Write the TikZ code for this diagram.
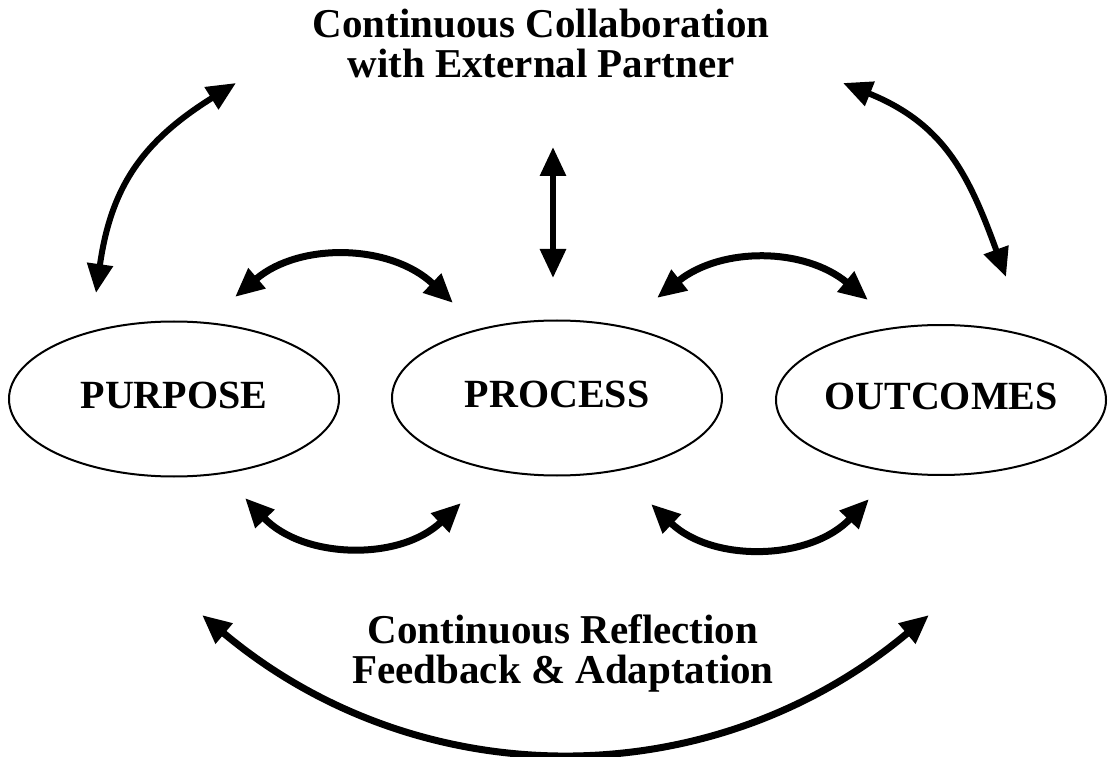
\documentclass[tikz,border=0pt]{standalone}
\usepackage{fontspec}
\setmainfont{Liberation Serif}
\usepackage{tikz}
\usetikzlibrary{shapes.geometric,arrows.meta}
\tikzset{%
  phase/.style={draw, ellipse, line width=2pt, minimum width=330pt,
    minimum height=155pt, inner sep=0pt, text depth=8pt,
    font=\bfseries\fontsize{40}{40}\selectfont},% the three stages
  caption/.style={align=center, inner sep=0pt,
    font=\bfseries\fontsize{41}{40}\selectfont},% top and bottom texts
  link/.style={line width=6pt, <->}% two-headed arrows
}

\begin{document}
\begin{tikzpicture}[x=1pt, y=1pt, >={Triangle[length=29pt,width=25pt]}]
\useasboundingbox (0,0) rectangle (1111,756);

\node[phase] (purpose) at (174,357) {PURPOSE};
\node[phase] (process) at (557,358) {PROCESS};
\node[phase, minimum height=150pt] (outcomes) at (941,356) {OUTCOMES};

\node[caption] (partner) at (541,713) {Continuous Collaboration\\with External Partner};
\node[caption] (reflect) at (563,103) {Continuous Reflection\\Feedback \& Adaptation};

% arrow ends
\coordinate (pl) at (96,463);
\coordinate (tl) at (236,673);
\coordinate (tr) at (843,673);
\coordinate (or) at (1006,479);
\coordinate (tm) at (553,609);
\coordinate (pm) at (553,478);

\coordinate (a1) at (235,459);
\coordinate (a2) at (453,453);
\coordinate (b1) at (657,458);
\coordinate (b2) at (868,456);
\coordinate (c1) at (245,258);
\coordinate (c2) at (461,253);
\coordinate (d1) at (651,252);
\coordinate (d2) at (869,257);
\coordinate (e1) at (202,141);
\coordinate (e2) at (929,141);

\draw[link] (pl) to[out=82, in=212, looseness=1.1] (tl);
\draw[link] (tr) to[out=-22, in=110, looseness=1.1] (or);
\draw[link] (tm) -- (pm);

\draw[link, line width=7pt] (a1) to[bend left=42] (a2);
\draw[link, line width=7pt] (b1) to[bend left=39] (b2);
\draw[link, line width=7pt] (c1) to[bend right=45] (c2);
\draw[link, line width=7pt] (d1) to[bend right=45] (d2);
\draw[link, line width=7pt] (e1) to[bend right=40] (e2);

\end{tikzpicture}
\end{document}
